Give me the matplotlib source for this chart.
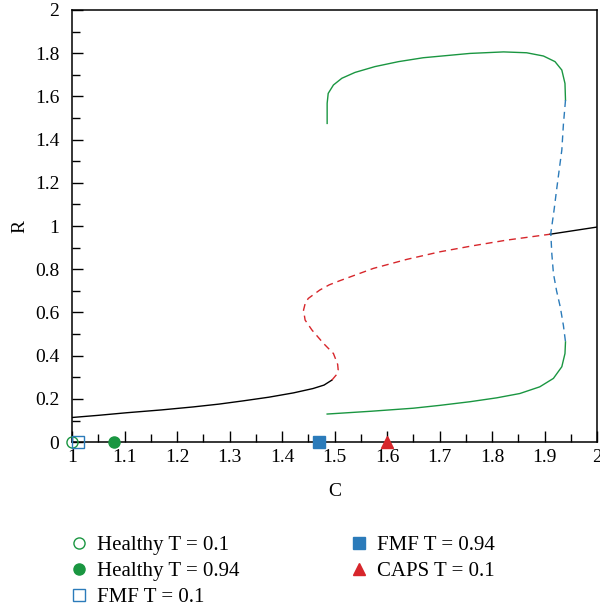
import matplotlib.pyplot as plt

plt.rcParams['font.family'] = ['Liberation Serif', 'DejaVu Serif']
plt.rcParams['font.size'] = 14

# stable lower branch (black)
c_low = [1.0, 1.05, 1.104, 1.17, 1.231, 1.28, 1.326, 1.375, 1.422, 1.459,
         1.48, 1.495]
r_low = [0.114, 0.124, 0.136, 0.149, 0.163, 0.176, 0.191, 0.208, 0.228,
         0.248, 0.264, 0.287]
# unstable middle branch (red dashed)
c_mid = [1.495, 1.503, 1.507, 1.506, 1.498, 1.479, 1.457, 1.444, 1.441,
         1.444, 1.450, 1.472, 1.490, 1.510, 1.574, 1.638, 1.701, 1.764,
         1.828, 1.910]
r_mid = [0.287, 0.310, 0.335, 0.360, 0.410, 0.457, 0.519, 0.565, 0.611,
         0.640, 0.665, 0.704, 0.728, 0.747, 0.804, 0.846, 0.881, 0.909,
         0.935, 0.962]
# stable upper branch (black)
c_high = [1.910, 1.999]
r_high = [0.962, 0.995]
# limit cycle max / min (green) and unstable cycle (blue dashed)
c_cyc_max = [1.486, 1.486, 1.488, 1.498, 1.514, 1.539, 1.577, 1.622, 1.669,
             1.758, 1.822, 1.866, 1.898, 1.920, 1.933, 1.939, 1.940]
r_cyc_max = [1.475, 1.568, 1.614, 1.653, 1.684, 1.711, 1.738, 1.761, 1.779,
             1.799, 1.806, 1.802, 1.787, 1.761, 1.722, 1.660, 1.583]
c_uns = [1.940, 1.936, 1.933, 1.928, 1.923, 1.918, 1.912, 1.914, 1.917,
         1.923, 1.930, 1.936, 1.940]
r_uns = [1.583, 1.47, 1.352, 1.26, 1.167, 1.07, 0.966, 0.87, 0.781,
         0.70, 0.626, 0.54, 0.464]
c_cyc_min = [1.940, 1.939, 1.933, 1.917, 1.891, 1.853, 1.809, 1.758, 1.700,
             1.650, 1.570, 1.486]
r_cyc_min = [0.464, 0.410, 0.349, 0.295, 0.256, 0.225, 0.205, 0.187, 0.170,
             0.157, 0.143, 0.130]

# patient markers on the C axis
labels = ['Healthy T = 0.1', 'Healthy T = 0.94', 'FMF T = 0.1',
          'FMF T = 0.94', 'CAPS T = 0.1']
c_pts = [1.0, 1.08, 1.012, 1.47, 1.6]
r_pts = [0, 0, 0, 0, 0]
markers = ['o', 'o', 's', 's', '^']
faces = ['none', '#1a9641', 'none', '#2b7bba', '#d7262b']
edges = ['#1a9641', '#1a9641', '#2b7bba', '#2b7bba', '#d7262b']

fig = plt.figure(figsize=(6, 6.09), dpi=100)
ax = fig.add_axes([0.12, 0.274, 0.875, 0.7096])

ax.plot(c_low, r_low, color='black', lw=1.0)
ax.plot(c_high, r_high, color='black', lw=1.0)
ax.plot(c_mid, r_mid, color='#d7262b', lw=1.0, dashes=(5, 3.5))
ax.plot(c_cyc_max, r_cyc_max, color='#1a9641', lw=1.0)
ax.plot(c_cyc_min, r_cyc_min, color='#1a9641', lw=1.0)
ax.plot(c_uns, r_uns, color='#2b7bba', lw=1.0, dashes=(5, 3.5))

for i in range(len(labels)):
    ax.plot([c_pts[i]], [r_pts[i]], marker=markers[i], ls='none', markersize=8,
            markerfacecolor=faces[i], markeredgecolor=edges[i],
            markeredgewidth=1.0, label=labels[i], clip_on=False, zorder=5)

ax.set_xlim(1, 2)
ax.set_ylim(0, 2)
ax.set_xticks([1, 1.1, 1.2, 1.3, 1.4, 1.5, 1.6, 1.7, 1.8, 1.9, 2])
ax.set_xticklabels(['1', '1.1', '1.2', '1.3', '1.4', '1.5', '1.6', '1.7', '1.8', '1.9', '2'])
ax.set_yticks([0, 0.2, 0.4, 0.6, 0.8, 1, 1.2, 1.4, 1.6, 1.8, 2])
ax.set_yticklabels(['0', '0.2', '0.4', '0.6', '0.8', '1', '1.2', '1.4', '1.6', '1.8', '2'])
ax.set_xticks([1.05 + 0.1 * i for i in range(10)], minor=True)
ax.set_yticks([0.1 + 0.2 * i for i in range(10)], minor=True)
ax.tick_params(which='major', direction='in', length=8, width=1.0)
ax.tick_params(axis='y', which='major', pad=9)
ax.tick_params(axis='x', which='major', pad=5)
ax.tick_params(which='minor', direction='in', length=5.5, width=1.0)
for s in ax.spines.values():
    s.set_linewidth(1.1)

ax.set_xlabel('C', labelpad=12)
ax.set_ylabel('R', labelpad=5)

fig.legend(loc='upper left', bbox_to_anchor=(0.079, 0.151), ncol=2,
           frameon=False, handletextpad=0.3, columnspacing=5.1,
           labelspacing=0.3, handlelength=1.2, fontsize=15)

fig.savefig('out.png', dpi=100)
